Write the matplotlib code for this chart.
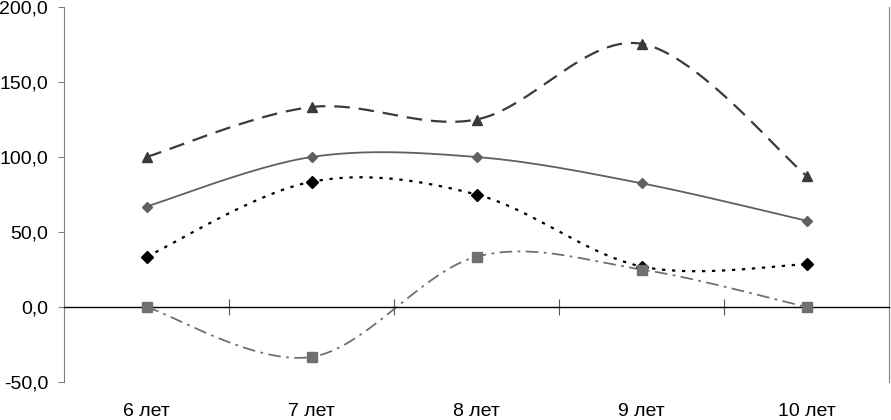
#!/usr/bin/env python3
"""Сглаженные линии по возрастам (стиль Excel)"""

import matplotlib
matplotlib.use('Agg')
import matplotlib.pyplot as plt
import matplotlib.ticker as ticker
import numpy as np

plt.rcParams.update({
    'font.family': ['Liberation Sans', 'DejaVu Sans'],
    'font.size': 14,
})

# ── данные ──────────────────────────────────────────────
ages = ['6 лет', '7 лет', '8 лет', '9 лет', '10 лет']
s_tri = [100.0, 133.3, 125.0, 175.5, 87.5]
s_dia = [67.0, 100.0, 100.0, 82.5, 57.5]
s_blk = [33.5, 83.5, 75.0, 27.0, 28.5]
s_sq = [0.0, -33.3, 33.5, 25.0, 0.0]


def smooth(y, n=40):
    # сглаживание как в Excel: кубические Безье с контрольными точками Catmull-Rom
    x = np.arange(len(y), dtype=float)
    y = np.asarray(y, dtype=float)
    px = np.concatenate([[x[0]], x, [x[-1]]])
    py = np.concatenate([[y[0]], y, [y[-1]]])
    xs, ys = [], []
    t = np.linspace(0, 1, n)
    for i in range(len(y) - 1):
        p0 = np.array([x[i], y[i]])
        p3 = np.array([x[i + 1], y[i + 1]])
        c1 = p0 + (np.array([px[i + 2], py[i + 2]]) - np.array([px[i], py[i]])) / 6
        c2 = p3 - (np.array([px[i + 3], py[i + 3]]) - np.array([px[i + 1], py[i + 1]])) / 6
        b = ((1 - t) ** 3)[:, None] * p0 + (3 * (1 - t) ** 2 * t)[:, None] * c1 \
            + (3 * (1 - t) * t ** 2)[:, None] * c2 + (t ** 3)[:, None] * p3
        xs.append(b[:, 0])
        ys.append(b[:, 1])
    return np.concatenate(xs), np.concatenate(ys)


fig = plt.figure(figsize=(8.91, 4.2), dpi=100)
ax = fig.add_axes([64 / 891, 1 - 382 / 420, 825 / 891, 375 / 420])

x = np.arange(len(ages))
series = [
    (s_tri, '#3a3a3a', (0, (7, 4)), 1.6, '^', 7, '#3a3a3a'),
    (s_dia, '#606060', '-', 1.3, 'D', 5, '#606060'),
    (s_blk, '#000000', (0, (1.5, 3)), 1.6, 'D', 6, '#000000'),
    (s_sq, '#707070', (0, (7, 3, 1.5, 3)), 1.3, 's', 7, '#707070'),
]
for vals, col, ls, lw, mk, ms, mc in series:
    sx, sy = smooth(vals)
    ax.plot(sx, sy, color=col, linestyle=ls, linewidth=lw, zorder=2)
    ax.plot(x, vals, linestyle='none', marker=mk, markersize=ms,
            color=mc, markeredgecolor=mc, zorder=3)

ax.set_xlim(-0.5, len(ages) - 0.5)
ax.set_ylim(-50, 200)
ax.yaxis.set_major_locator(ticker.MultipleLocator(50))
ax.yaxis.set_major_formatter(ticker.FuncFormatter(lambda v, p: f'{v:.1f}'.replace('.', ',')))
ax.tick_params(axis='y', direction='out', length=4.5, color='#808080', pad=7)

# ось X проходит через ноль, деления между категориями
ax.spines['bottom'].set_position(('data', 0))
ax.spines['bottom'].set_color('black')
ax.spines['bottom'].set_linewidth(1.0)
ax.set_xticks(x[:-1] + 0.5)
ax.tick_params(axis='x', direction='inout', length=12, color='#555555', labelbottom=False)
ax.spines['top'].set_visible(False)
ax.spines['left'].set_color('#808080')
ax.spines['right'].set_color('#808080')

sec = ax.secondary_xaxis(-0.0)
sec.set_xticks(x)
sec.set_xticklabels(ages)
sec.tick_params(length=0, pad=15)
sec.spines['bottom'].set_visible(False)

fig.savefig('out.png', dpi=100, facecolor='white')
